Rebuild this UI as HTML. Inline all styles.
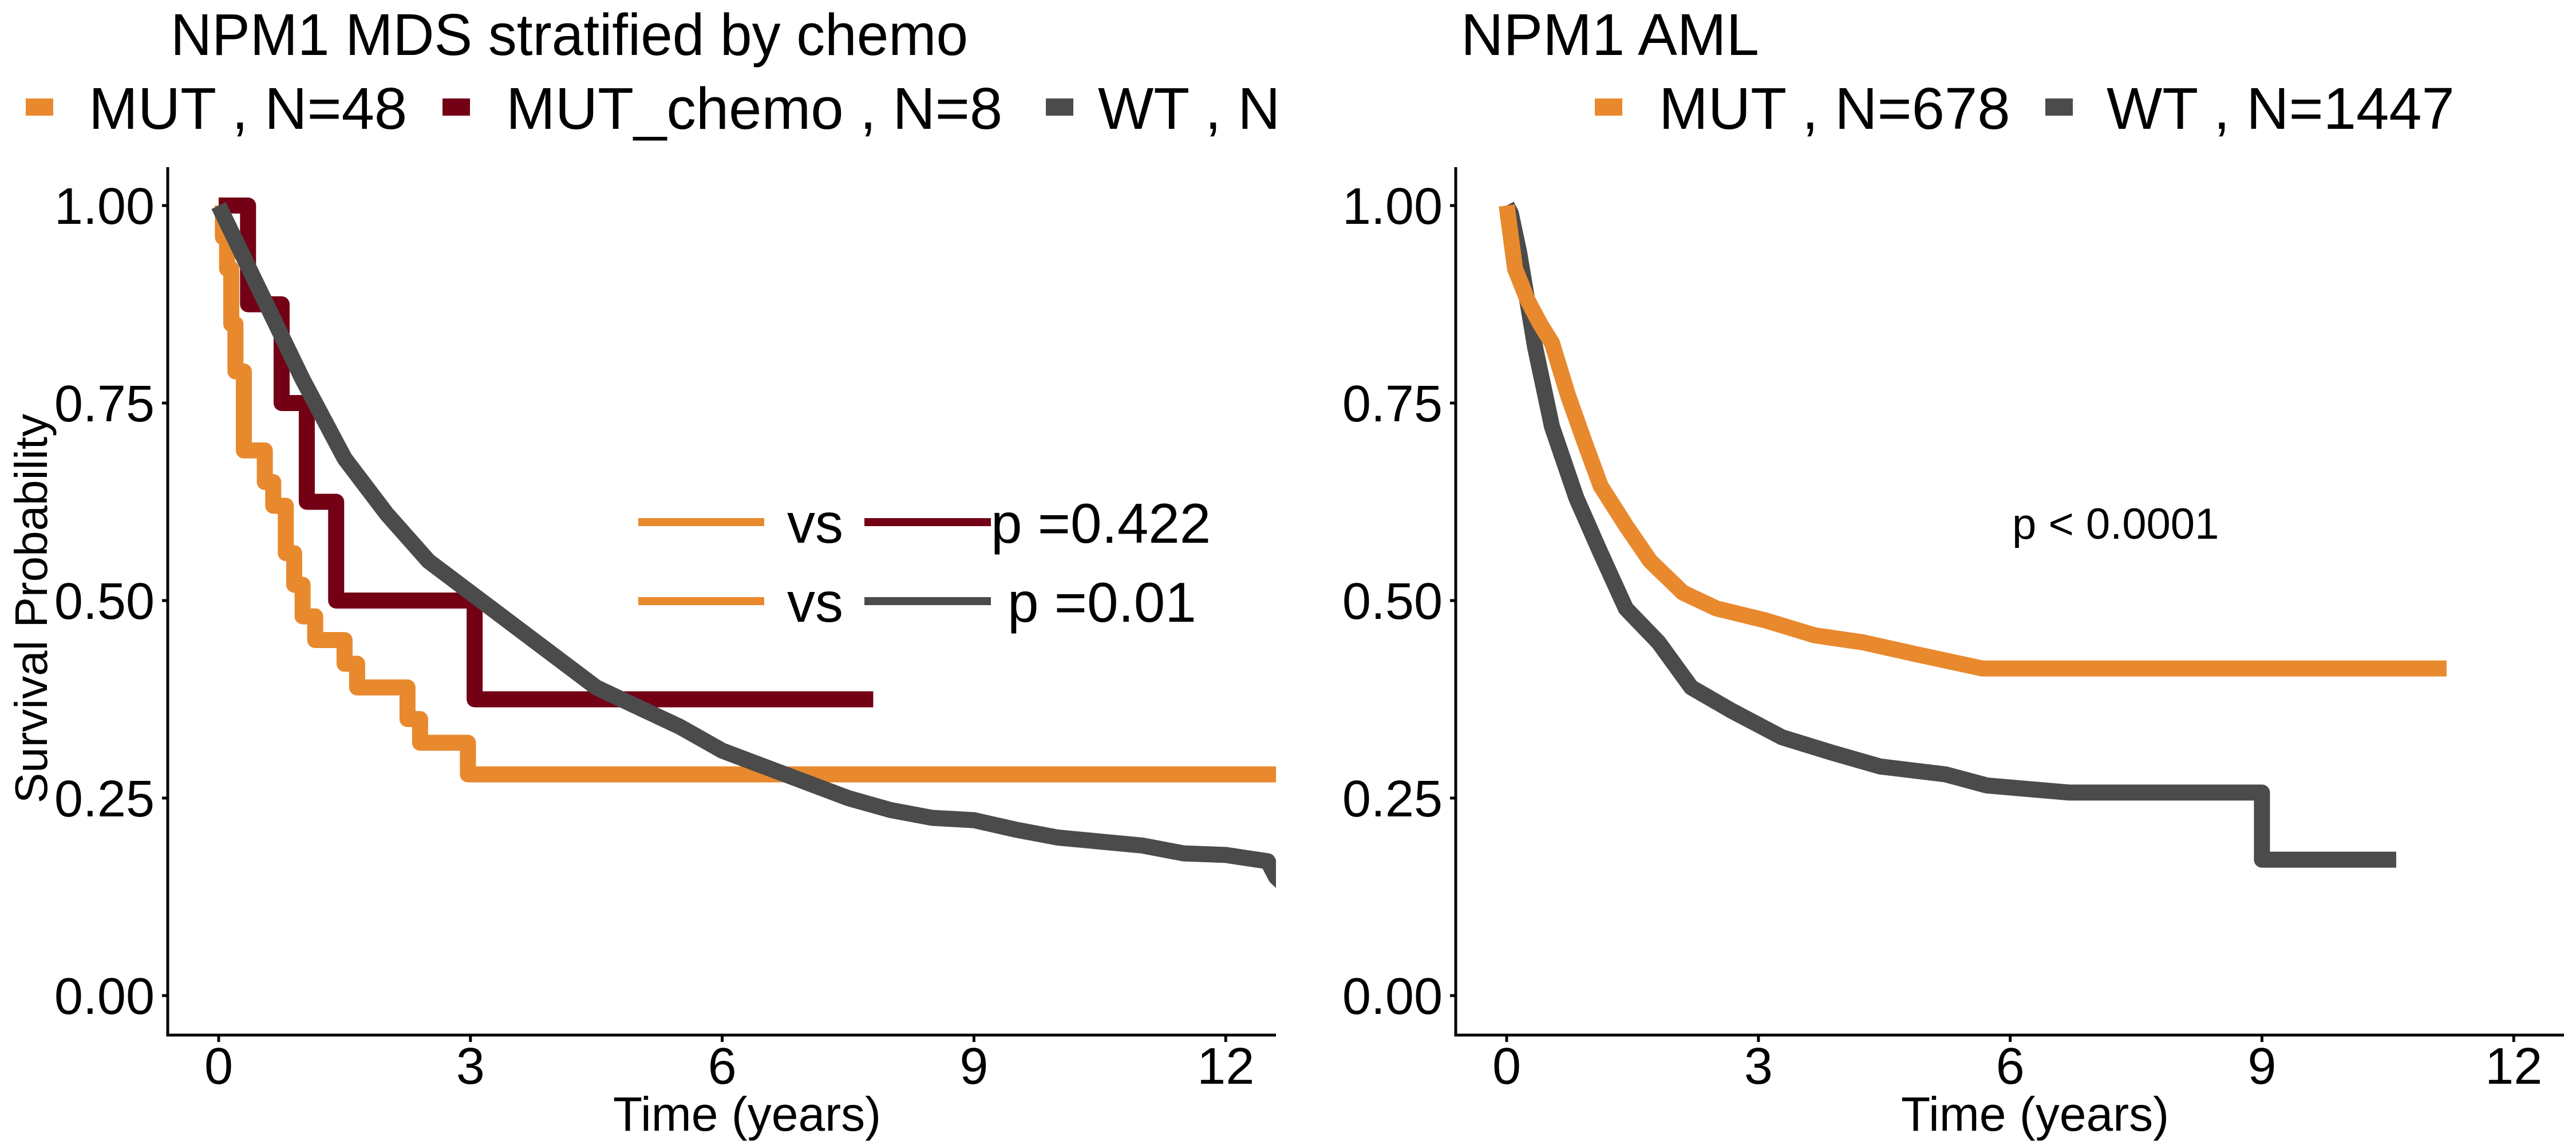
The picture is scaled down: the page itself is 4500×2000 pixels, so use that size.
<!DOCTYPE html>
<html><head><meta charset="utf-8"><style>
html,body{margin:0;padding:0;background:#fff;}
svg{display:block;font-family:"Liberation Sans",Arial,sans-serif;}
</style></head><body>
<svg id="chart" width="4500" height="2000" viewBox="0 0 4500 2000" xmlns="http://www.w3.org/2000/svg">
<defs>
<clipPath id="clipL"><rect x="293" y="292" width="1936" height="1516"/></clipPath>
<clipPath id="clipR"><rect x="2543" y="292" width="1936" height="1516"/></clipPath>
</defs>
<g id="left">
<text x="298" y="96" font-size="103" textLength="1393" lengthAdjust="spacingAndGlyphs">NPM1 MDS stratified by chemo</text>
<g>
<rect x="45" y="172" width="48" height="30" fill="#E8892E"/>
<text x="155" y="225" font-size="103">MUT , N=48</text>
<rect x="773" y="172" width="48" height="30" fill="#730014"/>
<text x="884" y="225" font-size="103">MUT_chemo , N=8</text>
<rect x="1827" y="172" width="48" height="30" fill="#4B4B4B"/>
<svg x="0" y="0" width="2229" height="300" overflow="hidden"><text x="1918" y="225" font-size="103">WT , N=1447</text></svg>
</g>
<g id="leftMarks" clip-path="url(#clipL)"></g>
<g>
<line x1="1115" y1="912" x2="1335" y2="912" stroke="#E8892E" stroke-width="14"/>
<text x="1375" y="948" font-size="98">vs</text>
<line x1="1510" y1="912" x2="1731" y2="912" stroke="#730014" stroke-width="14"/>
<text x="1731" y="948" font-size="98">p =0.422</text>
<line x1="1115" y1="1050" x2="1335" y2="1050" stroke="#E8892E" stroke-width="14"/>
<text x="1375" y="1086" font-size="98">vs</text>
<line x1="1510" y1="1050" x2="1731" y2="1050" stroke="#4B4B4B" stroke-width="14"/>
<text x="1760" y="1086" font-size="98">p =0.01</text>
</g>
<g id="leftAxes"></g>
<text transform="translate(82,1063) rotate(-90)" text-anchor="middle" font-size="80">Survival Probability</text>
<text x="1305" y="1975" text-anchor="middle" font-size="84">Time (years)</text>
</g>
<g id="right">
<text x="2552" y="96" font-size="103">NPM1 AML</text>
<rect x="2786" y="172" width="48" height="30" fill="#E8892E"/>
<text x="2898" y="225" font-size="103">MUT , N=678</text>
<rect x="3573" y="172" width="48" height="30" fill="#4B4B4B"/>
<text x="3680" y="225" font-size="103">WT , N=1447</text>
<g id="rightMarks" clip-path="url(#clipR)"></g>
<text x="3515" y="941" font-size="76">p &lt; 0.0001</text>
<g id="rightAxes"></g>
<text x="3555" y="1975" text-anchor="middle" font-size="84">Time (years)</text>
</g>
</svg>
<script>
const xTicks = [0, 3, 6, 9, 12];
const yTicks = [0, 0.25, 0.5, 0.75, 1.0];
const yTickLabels = ["0.00", "0.25", "0.50", "0.75", "1.00"];
// MDS panel
const mdsMutT = [0, 0.05, 0.1, 0.15, 0.2, 0.3, 0.55, 0.65, 0.8, 0.9, 1.0, 1.15, 1.5, 1.65, 2.25, 2.4, 2.97, 12.8];
const mdsMutS = [1, 0.96, 0.92, 0.85, 0.79, 0.69, 0.65, 0.62, 0.56, 0.52, 0.48, 0.45, 0.42, 0.39, 0.35, 0.32, 0.28, 0.28];
const mdsChemoT = [0, 0.35, 0.75, 1.05, 1.4, 3.05, 7.8];
const mdsChemoS = [1, 0.875, 0.75, 0.625, 0.5, 0.375, 0.375];
const mdsWtT = [0, 0.5, 1, 1.5, 2, 2.5, 3, 3.5, 4, 4.5, 5, 5.5, 6, 6.5, 7, 7.5, 8, 8.5, 9, 9.5, 10, 10.5, 11, 11.5, 12, 12.5, 12.6, 12.8];
const mdsWtS = [1, 0.89, 0.78, 0.68, 0.61, 0.55, 0.51, 0.47, 0.43, 0.39, 0.365, 0.34, 0.31, 0.29, 0.27, 0.25, 0.235, 0.225, 0.222, 0.21, 0.2, 0.195, 0.19, 0.18, 0.178, 0.17, 0.15, 0.13];
// AML panel
const amlMutT = [0, 0.1, 0.25, 0.4, 0.54, 0.73, 0.93, 1.12, 1.42, 1.71, 2.1, 2.5, 3.08, 3.67, 4.25, 4.84, 5.67, 11.2];
const amlMutS = [1, 0.92, 0.88, 0.85, 0.826, 0.76, 0.70, 0.645, 0.595, 0.55, 0.51, 0.49, 0.475, 0.456, 0.447, 0.433, 0.414, 0.414];
const amlWtT = [0, 0.05, 0.15, 0.34, 0.54, 0.83, 1.12, 1.42, 1.81, 2.2, 2.69, 3.28, 3.86, 4.45, 5.23, 5.72, 6.7, 9.0, 9.0, 10.6];
const amlWtS = [1, 0.99, 0.94, 0.82, 0.72, 0.63, 0.56, 0.49, 0.447, 0.39, 0.36, 0.327, 0.308, 0.29, 0.28, 0.266, 0.257, 0.257, 0.172, 0.172];

const NS = "http://www.w3.org/2000/svg";
const Y0 = 1739, YS = 1380, XS = 146.6;
const yScale = s => Y0 - YS * s;
function mk(tag, attrs, parent) {
  const e = document.createElementNS(NS, tag);
  for (const k in attrs) e.setAttribute(k, attrs[k]);
  parent.appendChild(e);
  return e;
}
function stepPath(T, S, xs) {
  let d = "M" + xs(T[0]) + "," + yScale(S[0]);
  for (let i = 1; i < T.length; i++) {
    d += " H" + xs(T[i]) + " V" + yScale(S[i]);
  }
  return d;
}
function linePath(T, S, xs) {
  return T.map((t, i) => (i ? "L" : "M") + xs(t) + "," + yScale(S[i])).join(" ");
}
function axes(g, axX, x0) {
  const xs = t => x0 + XS * t;
  const ax = mk("path", {d: "M" + axX + ",292 V1808 H" + (axX + 1936), fill: "none", stroke: "#000", "stroke-width": 5}, g);
  
  
  xTicks.forEach(t => {
    const l = mk("line", {x1: xs(t), x2: xs(t), y1: 1808, y2: 1820, stroke: "#000", "stroke-width": 5}, g);
    
    
    const tx = mk("text", {x: xs(t), y: 1893, "text-anchor": "middle", "font-size": 90}, g);
    
    
    tx.textContent = t;
  });
  yTicks.forEach((v, i) => {
    const l = mk("line", {x1: axX - 10, x2: axX, y1: yScale(v), y2: yScale(v), stroke: "#000", "stroke-width": 5}, g);
    
    
    const tx = mk("text", {x: axX - 23, y: yScale(v) + 32, "text-anchor": "end", "font-size": 90}, g);
    
    
    tx.textContent = yTickLabels[i];
  });
  return xs;
}
const xsL = axes(document.getElementById("leftAxes"), 293, 382);
const xsR = axes(document.getElementById("rightAxes"), 2543, 2632);
function curve(g, d, color, name) {
  const p = mk("path", {d: d, fill: "none", stroke: color, "stroke-width": 28, "stroke-linejoin": "round"}, g);
  
  
}
const gl = document.getElementById("leftMarks");
curve(gl, stepPath(mdsMutT, mdsMutS, xsL), "#E8892E", "curve-mds-mut");
curve(gl, stepPath(mdsChemoT, mdsChemoS, xsL), "#730014", "curve-mds-mut-chemo");
curve(gl, linePath(mdsWtT, mdsWtS, xsL), "#4B4B4B", "curve-mds-wt");
const gr = document.getElementById("rightMarks");
curve(gr, linePath(amlWtT, amlWtS, xsR), "#4B4B4B", "curve-aml-wt");
curve(gr, linePath(amlMutT, amlMutS, xsR), "#E8892E", "curve-aml-mut");
</script>
</body></html>
